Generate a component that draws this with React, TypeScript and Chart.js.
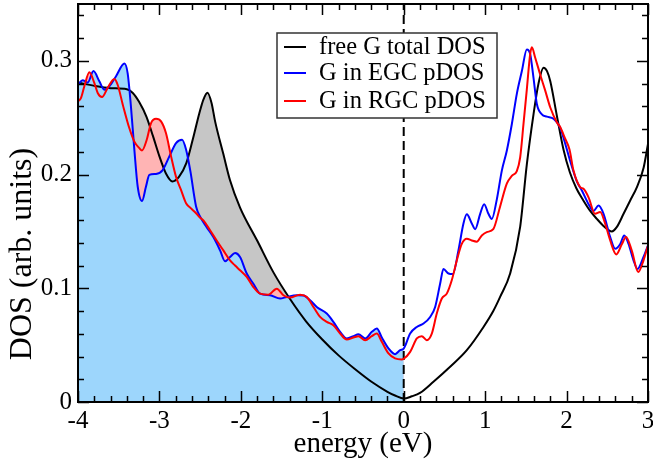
import { useEffect, useRef } from 'react';
import { Chart, registerables } from 'chart.js';

Chart.register(...registerables);

// Density of states of free graphene (total)
const totalEnergy = [
  -4.0, -3.8, -3.6, -3.4, -3.33, -3.25, -3.16, -3.08, -3.0, -2.92, -2.84, -2.76, -2.67, -2.59,
  -2.51, -2.46, -2.41, -2.36, -2.317, -2.215, -2.133, -2.01, -1.8, -1.6, -1.4, -1.2, -1.0, -0.8,
  -0.6, -0.4, -0.2, -0.1, 0.0, 0.1, 0.2, 0.365, 0.57, 0.775, 0.98, 1.1, 1.184, 1.307, 1.43,
  1.512, 1.594, 1.655, 1.717, 1.76, 1.8, 1.88, 1.962, 2.04, 2.12, 2.208, 2.29, 2.372, 2.45,
  2.52, 2.556, 2.618, 2.7, 2.78, 2.864, 2.946, 3.0,
];
const totalDos = [
  0.281, 0.278, 0.276, 0.275, 0.272, 0.264, 0.251, 0.234, 0.216, 0.201, 0.194, 0.198, 0.21, 0.231,
  0.254, 0.266, 0.272, 0.263, 0.247, 0.218, 0.195, 0.171, 0.142, 0.114, 0.091, 0.071, 0.055, 0.041,
  0.029, 0.018, 0.009, 0.0055, 0.003, 0.005, 0.008, 0.0178, 0.031, 0.0456, 0.066, 0.08, 0.0924,
  0.113, 0.154, 0.209, 0.253, 0.28, 0.294, 0.291, 0.282, 0.252, 0.222, 0.202, 0.188, 0.177, 0.168,
  0.161, 0.155, 0.151, 0.15, 0.154, 0.1655, 0.177, 0.189, 0.206, 0.227,
];

// Projected DOS of G in EGC
const egcEnergy = [
  -4.0, -3.943, -3.88, -3.81, -3.738, -3.677, -3.615, -3.533, -3.43, -3.39, -3.35, -3.308, -3.267,
  -3.214, -3.165, -3.124, -3.042, -2.96, -2.878, -2.796, -2.722, -2.673, -2.62, -2.55, -2.5, -2.42,
  -2.338, -2.255, -2.194, -2.133, -2.071, -2.01, -1.928, -1.846, -1.764, -1.641, -1.518, -1.436,
  -1.313, -1.23, -1.15, -1.068, -0.945, -0.864, -0.781, -0.699, -0.617, -0.556, -0.474, -0.392,
  -0.33, -0.269, -0.187, -0.106, -0.044, 0.0, 0.079, 0.161, 0.243, 0.325, 0.386, 0.447, 0.488,
  0.55, 0.603, 0.672, 0.733, 0.775, 0.836, 0.877, 0.939, 0.988, 1.04, 1.082, 1.143, 1.205, 1.266,
  1.328, 1.389, 1.451, 1.512, 1.553, 1.594, 1.635, 1.697, 1.758, 1.84, 1.92, 1.98, 2.044, 2.126,
  2.188, 2.27, 2.33, 2.393, 2.454, 2.536, 2.597, 2.659, 2.708, 2.761, 2.822, 2.871, 2.945, 3.0,
];
const egcDos = [
  0.279, 0.283, 0.281, 0.291, 0.282, 0.2747, 0.2777, 0.2865, 0.2976, 0.289, 0.26, 0.222, 0.1895,
  0.1768, 0.1895, 0.1997, 0.2006, 0.204, 0.216, 0.2277, 0.2306, 0.222, 0.203, 0.172, 0.163, 0.1538,
  0.145, 0.1333, 0.1237, 0.1275, 0.131, 0.1275, 0.113, 0.104, 0.0953, 0.0939, 0.091, 0.0924,
  0.0939, 0.0936, 0.0895, 0.0836, 0.0778, 0.0705, 0.0617, 0.0559, 0.0579, 0.0596, 0.0559, 0.0617,
  0.0646, 0.0567, 0.0471, 0.0421, 0.0456, 0.047, 0.0602, 0.066, 0.069, 0.0748, 0.0836, 0.104, 0.117,
  0.113, 0.1125, 0.1333, 0.1568, 0.165, 0.157, 0.152, 0.1655, 0.174, 0.1655, 0.161, 0.178, 0.2035,
  0.221, 0.2445, 0.271, 0.291, 0.31, 0.306, 0.285, 0.262, 0.253, 0.251, 0.249, 0.2415, 0.228, 0.212,
  0.194, 0.186, 0.174, 0.168, 0.1728, 0.1655, 0.145, 0.1348, 0.139, 0.1465, 0.139, 0.1246, 0.117,
  0.1275, 0.1377,
];

// Projected DOS of G in RGC
const rgcEnergy = [
  -4.0, -3.963, -3.922, -3.86, -3.8, -3.758, -3.705, -3.636, -3.554, -3.513, -3.45, -3.37, -3.308,
  -3.247, -3.214, -3.156, -3.103, -3.042, -2.98, -2.92, -2.857, -2.796, -2.735, -2.673, -2.612,
  -2.55, -2.5, -2.46, -2.378, -2.297, -2.215, -2.133, -2.071, -2.01, -1.928, -1.846, -1.764, -1.662,
  -1.559, -1.477, -1.396, -1.273, -1.19, -1.109, -1.027, -0.945, -0.864, -0.781, -0.699, -0.617,
  -0.556, -0.474, -0.392, -0.33, -0.269, -0.187, -0.106, -0.024, 0.0, 0.079, 0.161, 0.222, 0.284,
  0.345, 0.406, 0.468, 0.529, 0.59, 0.652, 0.713, 0.775, 0.836, 0.897, 0.959, 1.02, 1.1, 1.184,
  1.266, 1.33, 1.389, 1.43, 1.471, 1.512, 1.553, 1.574, 1.614, 1.676, 1.737, 1.8, 1.88, 1.92, 1.98,
  2.036, 2.085, 2.167, 2.208, 2.27, 2.35, 2.413, 2.474, 2.536, 2.61, 2.68, 2.73, 2.8, 2.88, 2.945,
  3.0,
];
const rgcDos = [
  0.2644, 0.2674, 0.2777, 0.29, 0.2806, 0.2718, 0.2682, 0.2762, 0.2841, 0.279, 0.2615, 0.2409,
  0.229, 0.2233, 0.2212, 0.2306, 0.2453, 0.249, 0.2468, 0.2365, 0.216, 0.198, 0.1865, 0.1748,
  0.1703, 0.166, 0.162, 0.1596, 0.151, 0.142, 0.1333, 0.1245, 0.12, 0.1158, 0.11, 0.101, 0.0953,
  0.0944, 0.0997, 0.0939, 0.0918, 0.0944, 0.0924, 0.0836, 0.0749, 0.0705, 0.0675, 0.0602, 0.055,
  0.0567, 0.0579, 0.0544, 0.0579, 0.0602, 0.0529, 0.0427, 0.0383, 0.0374, 0.038, 0.0441, 0.0559,
  0.0579, 0.0544, 0.0602, 0.0778, 0.091, 0.0953, 0.107, 0.1245, 0.139, 0.1436, 0.142, 0.141, 0.1465,
  0.1494, 0.152, 0.172, 0.192, 0.199, 0.203, 0.215, 0.2445, 0.275, 0.306, 0.312, 0.303, 0.288,
  0.274, 0.259, 0.246, 0.242, 0.232, 0.222, 0.2035, 0.189, 0.1875, 0.18, 0.1655, 0.167, 0.1568,
  0.142, 0.1298, 0.139, 0.145, 0.1333, 0.1143, 0.1246, 0.1377,
];

const seriesLabels = ['free G total DOS', 'G in EGC pDOS', 'G in RGC pDOS'];
const xTitle = 'energy (eV)';
const yTitle = 'DOS (arb. units)';
const xTicks = [-4, -3, -2, -1, 0, 1, 2, 3];
const yTicks = [0, 0.1, 0.2, 0.3];
const xRange = [-4, 3];
const yRange = [0, 0.35];
const fermiEnergy = 0;

const BLACK = '#000000';
const BLUE = '#0000ff';
const RED = '#ff0000';
const GRAY_FILL = '#c6c6c6';
const PINK_FILL = '#ffb4b4';
const BLUE_FILL = '#9dd6fc';
const FONT = '"Liberation Serif", "Times New Roman", serif';

type Pt = { x: number; y: number };
const points = (xs: number[], ys: number[]): Pt[] => xs.map((x, i) => ({ x, y: ys[i] }));
const occupied = (pts: Pt[]) => pts.filter((p) => p.x <= fermiEnergy);

// Frame with inward ticks on all four sides
const framePlugin = {
  id: 'frameTicks',
  afterDatasetsDraw(chart: any) {
    const { ctx, chartArea: a, scales } = chart;
    const x = scales.x;
    const y = scales.y;
    ctx.save();
    ctx.strokeStyle = BLACK;
    ctx.lineWidth = 1.5;
    ctx.beginPath();
    const xMinorCount = Math.round((xRange[1] - xRange[0]) / 0.2);
    for (let i = 0; i <= xMinorCount; i++) {
      const v = xRange[0] + i * 0.2;
      const len = i % 5 === 0 ? 11 : 6;
      const px = Math.round(x.getPixelForValue(v)) + 0.5;
      ctx.moveTo(px, a.bottom);
      ctx.lineTo(px, a.bottom - len);
      ctx.moveTo(px, a.top);
      ctx.lineTo(px, a.top + len);
    }
    const yMinorCount = Math.floor((yRange[1] - yRange[0]) / 0.02 + 1e-6);
    for (let i = 0; i <= yMinorCount; i++) {
      const v = yRange[0] + i * 0.02;
      const len = i % 5 === 0 ? 11 : 6;
      const py = Math.round(y.getPixelForValue(v)) + 0.5;
      ctx.moveTo(a.left, py);
      ctx.lineTo(a.left + len, py);
      ctx.moveTo(a.right, py);
      ctx.lineTo(a.right - len, py);
    }
    ctx.stroke();
    ctx.lineWidth = 2;
    ctx.strokeRect(a.left, a.top, a.right - a.left, a.bottom - a.top);
    ctx.restore();
  },
};

// Axis titles
const titlesPlugin = {
  id: 'axisTitles',
  afterDraw(chart: any) {
    const { ctx, chartArea: a } = chart;
    ctx.save();
    ctx.fillStyle = BLACK;
    ctx.textAlign = 'center';
    ctx.textBaseline = 'middle';
    ctx.font = `29px ${FONT}`;
    ctx.fillText(xTitle, (a.left + a.right) / 2, 444);
    ctx.translate(23, 254);
    ctx.rotate(-Math.PI / 2);
    ctx.font = `32px ${FONT}`;
    ctx.fillText(yTitle, 0, 0);
    ctx.restore();
  },
};

// Boxed legend placed inside the plot
const boxLegendPlugin = {
  id: 'boxLegend',
  afterDraw(chart: any) {
    const { ctx } = chart;
    const box = { left: 277, top: 33, width: 220, height: 85 };
    const rows = [47, 73, 101];
    const colors = [BLACK, BLUE, RED];
    ctx.save();
    ctx.fillStyle = '#ffffff';
    ctx.fillRect(box.left, box.top, box.width, box.height);
    ctx.strokeStyle = '#333333';
    ctx.lineWidth = 1.5;
    ctx.strokeRect(box.left, box.top, box.width, box.height);
    ctx.font = `24.5px ${FONT}`;
    ctx.textBaseline = 'middle';
    ctx.textAlign = 'left';
    seriesLabels.forEach((label, i) => {
      ctx.strokeStyle = colors[i];
      ctx.lineWidth = 2;
      ctx.beginPath();
      ctx.moveTo(284, rows[i]);
      ctx.lineTo(306, rows[i]);
      ctx.stroke();
      ctx.fillStyle = BLACK;
      ctx.fillText(label, 319, rows[i] + 1);
    });
    ctx.restore();
  },
};

const noAutoPadding = (scale: any) => {
  scale.paddingTop = 0;
  scale.paddingBottom = 0;
  scale.paddingLeft = 0;
  scale.paddingRight = 0;
};

export default function App() {
  const canvasRef = useRef<HTMLCanvasElement | null>(null);

  useEffect(() => {
    const canvas = canvasRef.current;
    if (!canvas) return;

    const total = points(totalEnergy, totalDos);
    const egc = points(egcEnergy, egcDos);
    const rgc = points(rgcEnergy, rgcDos);

    const common = {
      pointRadius: 0,
      pointHoverRadius: 0,
      cubicInterpolationMode: 'monotone' as const,
    };

    const chart = new Chart(canvas, {
      type: 'line',
      data: {
        datasets: [
          {
            ...common,
            label: 'total occupied',
            data: occupied(total),
            fill: 'origin',
            backgroundColor: GRAY_FILL,
            borderColor: 'transparent',
            borderWidth: 0,
            order: 10,
          },
          {
            ...common,
            label: 'RGC occupied',
            data: occupied(rgc),
            fill: 'origin',
            backgroundColor: PINK_FILL,
            borderColor: 'transparent',
            borderWidth: 0,
            order: 9,
          },
          {
            ...common,
            label: 'EGC occupied',
            data: occupied(egc),
            fill: 'origin',
            backgroundColor: BLUE_FILL,
            borderColor: 'transparent',
            borderWidth: 0,
            order: 8,
          },
          {
            label: 'Fermi level',
            data: [
              { x: fermiEnergy, y: yRange[0] },
              { x: fermiEnergy, y: yRange[1] },
            ],
            borderColor: BLACK,
            borderWidth: 2,
            borderDash: [9, 5],
            pointRadius: 0,
            fill: false,
            order: 4,
          },
          {
            ...common,
            label: seriesLabels[0],
            data: total,
            borderColor: BLACK,
            borderWidth: 2,
            fill: false,
            order: 3,
          },
          {
            ...common,
            label: seriesLabels[1],
            data: egc,
            borderColor: BLUE,
            borderWidth: 2,
            fill: false,
            order: 2,
          },
          {
            ...common,
            label: seriesLabels[2],
            data: rgc,
            borderColor: RED,
            borderWidth: 2,
            fill: false,
            order: 1,
          },
        ],
      },
      options: {
        animation: false,
        responsive: false,
        devicePixelRatio: 1,
        events: [],
        layout: { padding: { left: 0, right: 5, top: 4, bottom: 0 } },
        plugins: {
          legend: { display: false },
          tooltip: { enabled: false },
        },
        scales: {
          x: {
            type: 'linear',
            min: xRange[0],
            max: xRange[1],
            afterBuildTicks: (scale: any) => {
              scale.ticks = xTicks.map((value) => ({ value }));
            },
            afterFit: (scale: any) => {
              scale.height = 59;
              noAutoPadding(scale);
            },
            grid: { display: false, drawTicks: false },
            border: { display: false },
            ticks: {
              color: BLACK,
              font: { family: FONT, size: 25 },
              padding: 4,
              maxRotation: 0,
              autoSkip: false,
              callback: (v: any) => String(v),
            },
          },
          y: {
            type: 'linear',
            min: yRange[0],
            max: yRange[1],
            afterBuildTicks: (scale: any) => {
              scale.ticks = yTicks.map((value) => ({ value }));
            },
            afterFit: (scale: any) => {
              scale.width = 78;
              noAutoPadding(scale);
            },
            grid: { display: false, drawTicks: false },
            border: { display: false },
            ticks: {
              color: BLACK,
              font: { family: FONT, size: 25 },
              padding: 6,
              autoSkip: false,
              callback: (v: any) => (v === 0 ? '0' : Number(v).toFixed(1)),
            },
          },
        },
      },
      plugins: [framePlugin, titlesPlugin, boxLegendPlugin],
    });

    return () => chart.destroy();
  }, []);

  return (
    <div style={{ position: 'fixed', left: 0, top: 0, width: 653, height: 461, background: '#fff' }}>
      <canvas ref={canvasRef} width={653} height={461} />
    </div>
  );
}
